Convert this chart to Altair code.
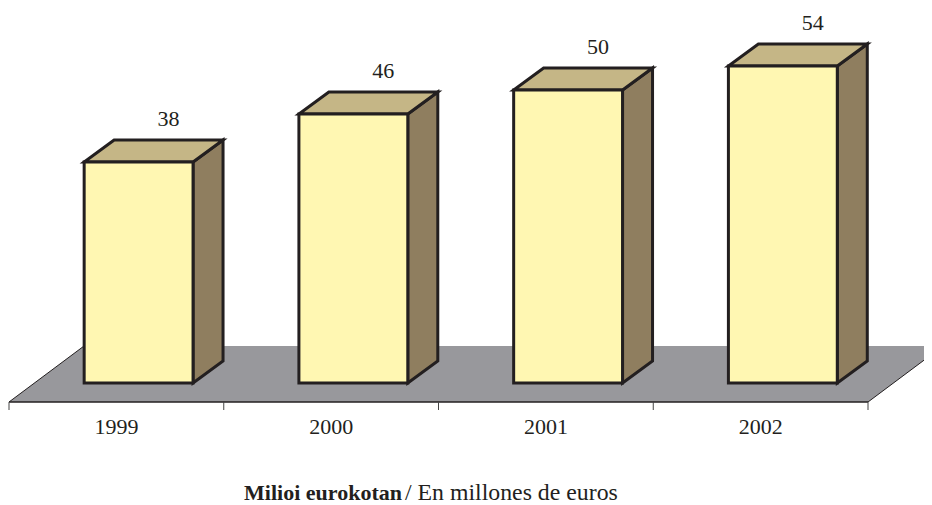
import altair as alt
import pandas as pd

# ---- data ----
years = ["1999", "2000", "2001", "2002"]
values = [38, 46, 50, 54]
title_bold = "Milioi eurokotan"
title_regular = "/ En millones de euros"

# ---- geometry / style constants ----
W, H = 916, 497
PXU_X = 214.75   # pixels per category band
PXU_Y = 6.0      # pixels per value unit
X0 = 1.0         # plot x of first band edge
Y0 = 382.0       # plot y of value 0

xs = alt.Scale(domain=[-X0 / PXU_X, (W - X0) / PXU_X], nice=False, zero=False)
ys = alt.Scale(domain=[(Y0 - H) / PXU_Y, Y0 / PXU_Y], nice=False, zero=False)

BAR_L, BAR_R = 0.35, 0.857
DX = 30 / PXU_X
DY = 22 / PXU_Y
BASE = 7 / 6
FLOOR_FRONT = -2.0
FLOOR_BACK = 44 / 6
FLOOR_DX = 75 / PXU_X
N = len(years)

STROKE = "#231F20"
FRONT = "#FFF7B2"
TOP = "#C5B686"
SIDE = "#8F7E5F"
FLOOR = "#98989C"
FONT = "Times New Roman, Liberation Serif, serif"

# ---- tables built from the arrays ----
front_df = pd.DataFrame({
    "year": years, "value": values,
    "l": [i + BAR_L for i in range(N)],
    "r": [i + BAR_R for i in range(N)],
    "base": [BASE] * N,
})
side_rows, top_rows = [], []
for i, (yr, v) in enumerate(zip(years, values)):
    side_rows.append({"year": yr, "x": i + BAR_R, "lo": BASE, "hi": v})
    side_rows.append({"year": yr, "x": i + BAR_R + DX, "lo": BASE + DY, "hi": v + DY})
    top_rows.append({"year": yr, "y": v, "xl": i + BAR_L, "xr": i + BAR_R})
    top_rows.append({"year": yr, "y": v + DY, "xl": i + BAR_L + DX, "xr": i + BAR_R + DX})
side_df = pd.DataFrame(side_rows)
top_df = pd.DataFrame(top_rows)

floor_df = pd.DataFrame({
    "y": [FLOOR_FRONT, FLOOR_BACK],
    "xl": [0, FLOOR_DX],
    "xr": [N, N + FLOOR_DX],
})
edges_df = pd.DataFrame({
    "x": [0, 0, N], "x2": [N, FLOOR_DX, N + FLOOR_DX],
    "y": [FLOOR_FRONT] * 3, "y2": [FLOOR_FRONT, FLOOR_BACK, FLOOR_BACK],
    "w": [1.5, 1.0, 1.0],
})
ticks_df = pd.DataFrame({"x": list(range(N + 1))})
cat_df = pd.DataFrame({"x": [i + 0.5 for i in range(N)], "text": years})
val_df = pd.DataFrame({
    "x": [i + (BAR_L + BAR_R) / 2 + DX for i in range(N)],
    "y": [v + DY for v in values],
    "text": [str(v) for v in values],
})

# ---- layers ----
floor = alt.Chart(floor_df).mark_area(orient="horizontal", color=FLOOR, clip=True).encode(
    y=alt.Y("y:Q", scale=ys, axis=None),
    x=alt.X("xl:Q", scale=xs, axis=None),
    x2="xr:Q",
)
edges = alt.Chart(edges_df).mark_rule(color=STROKE, clip=True).encode(
    x=alt.X("x:Q", scale=xs), x2="x2:Q",
    y=alt.Y("y:Q", scale=ys), y2="y2:Q",
    strokeWidth=alt.StrokeWidth("w:Q", scale=None, legend=None),
)
ticks = alt.Chart(ticks_df).mark_rule(color="#444444", strokeWidth=1).encode(
    x=alt.X("x:Q", scale=xs),
    y=alt.Y("y:Q", scale=ys), y2="y2:Q",
).transform_calculate(y=str(FLOOR_FRONT), y2=str(FLOOR_FRONT - 8 / PXU_Y))

side = alt.Chart(side_df).mark_area(
    color=SIDE, stroke=STROKE, strokeWidth=3, strokeJoin="miter", opacity=1
).encode(
    x=alt.X("x:Q", scale=xs), y=alt.Y("lo:Q", scale=ys), y2="hi:Q", detail="year:N",
)
top = alt.Chart(top_df).mark_area(
    orient="horizontal", color=TOP, stroke=STROKE, strokeWidth=3, strokeJoin="miter", opacity=1
).encode(
    y=alt.Y("y:Q", scale=ys), x=alt.X("xl:Q", scale=xs), x2="xr:Q", detail="year:N",
)
front = alt.Chart(front_df).mark_rect(
    color=FRONT, stroke=STROKE, strokeWidth=3, strokeJoin="miter"
).encode(
    x=alt.X("l:Q", scale=xs), x2="r:Q",
    y=alt.Y("base:Q", scale=ys), y2="value:Q",
)
cat_labels = alt.Chart(cat_df).mark_text(
    font=FONT, fontSize=22, color=STROKE, baseline="alphabetic"
).encode(
    x=alt.X("x:Q", scale=xs), y=alt.Y("y:Q", scale=ys), text="text:N",
).transform_calculate(y="-7.25")
val_labels = alt.Chart(val_df).mark_text(
    font=FONT, fontSize=22, color=STROKE, baseline="alphabetic", dy=-14.5
).encode(
    x=alt.X("x:Q", scale=xs), y=alt.Y("y:Q", scale=ys), text="text:N",
)
t_bold = alt.Chart(pd.DataFrame({"t": [title_bold]})).mark_text(
    font=FONT, fontSize=22, fontWeight="bold", color=STROKE, align="right", baseline="alphabetic"
).encode(x=alt.value(394), y=alt.value(492), text="t:N")
t_reg = alt.Chart(pd.DataFrame({"t": [title_regular]})).mark_text(
    font=FONT, fontSize=23.8, color=STROKE, align="left", baseline="alphabetic"
).encode(x=alt.value(397), y=alt.value(492), text="t:N")

chart = alt.layer(
    floor, edges, ticks, side, top, front, cat_labels, val_labels, t_bold, t_reg
).properties(
    width=W, height=H, padding=0, autosize=alt.AutoSizeParams(type="none"),
    background="white",
).configure_view(stroke=None)

chart.save("out.html", embed_options={"renderer": "svg", "actions": False})
